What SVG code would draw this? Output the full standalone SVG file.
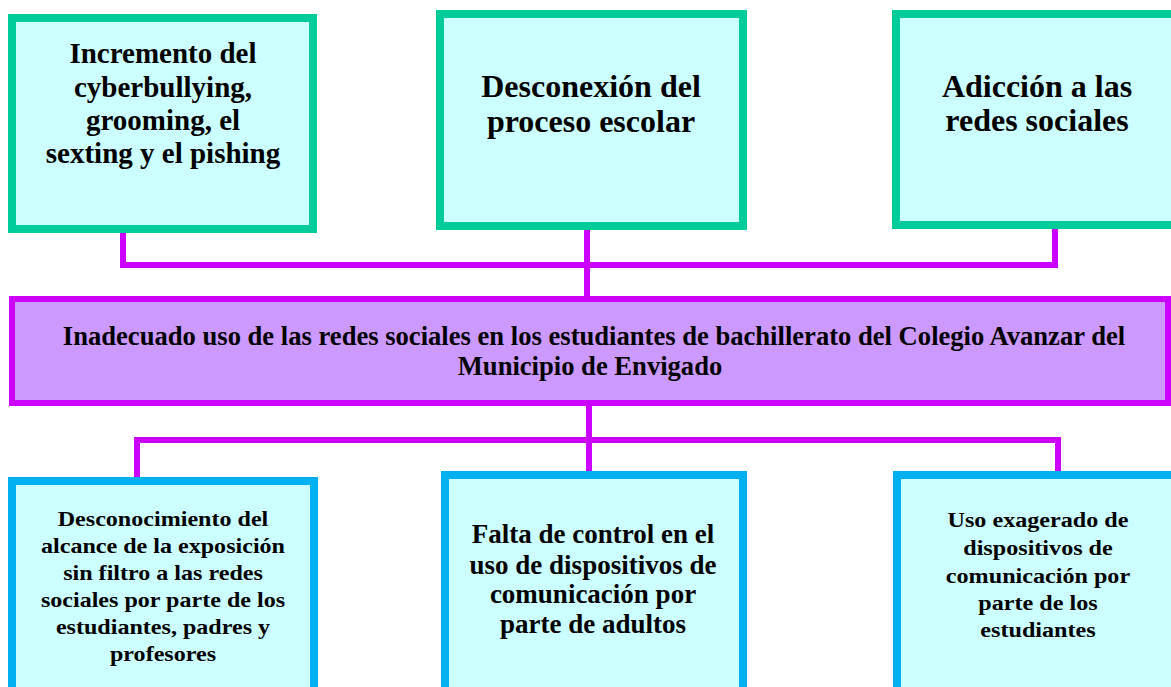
<svg xmlns="http://www.w3.org/2000/svg" width="1171" height="687" viewBox="0 0 1171 687">
<style>
.top{fill:#CCFFFF;stroke:#00CC99;stroke-width:8}
.bot{fill:#CCFFFF;stroke:#00B0F0;stroke-width:8}
.mid{fill:#CC99FF;stroke:#CC00FF;stroke-width:6}
.con{fill:none;stroke:#CC00FF;stroke-width:6}
text{font-family:"Liberation Serif","Times New Roman",serif;font-weight:bold;fill:#000;text-anchor:middle}
.t1{font-size:29px}
.t1b{font-size:32px}
.t2{font-size:26.6px}
.t5{font-size:22px}
.t6{font-size:27px}
.t7{font-size:21px}
</style>
<rect width="1171" height="687" fill="#fff"/>
<g id="connectors">
<polyline class="con" points="123,229 123,265 1055,265 1055,229"/>
<line class="con" x1="587" y1="229" x2="587" y2="296"/>
<line class="con" x1="589" y1="406" x2="589" y2="474"/>
<polyline class="con" points="137,477 137,440 1058,440 1058,474"/>
</g>
<g id="n1">
<rect class="top" x="12" y="18" width="301" height="211"/>
<text class="t1" x="163" y="63">Incremento del</text>
<text class="t1" x="163" y="97">cyberbullying,</text>
<text class="t1" x="163" y="130">grooming,  el</text>
<text class="t1" x="163" y="163">sexting y el pishing</text>
</g>
<g id="n2">
<rect class="top" x="440" y="14" width="303" height="212"/>
<text class="t1b" x="591" y="97">Desconexión del</text>
<text class="t1b" x="591" y="132">proceso escolar</text>
</g>
<g id="n3">
<rect class="top" x="896" y="14" width="285" height="211"/>
<text class="t1b" x="1037" y="97">Adicción a las</text>
<text class="t1b" x="1037" y="131">redes sociales</text>
</g>
<g id="n4">
<rect class="mid" x="12" y="299" width="1156" height="104"/>
<text class="t2" x="594" y="345">Inadecuado uso de las redes sociales en los estudiantes de bachillerato del Colegio Avanzar del</text>
<text class="t2" x="590" y="375">Municipio de Envigado</text>
</g>
<g id="n5">
<rect class="bot" x="12" y="481" width="302" height="215"/>
<g transform="translate(163,0) scale(1.095,1)">
<text class="t5" x="0" y="526">Desconocimiento del</text>
<text class="t5" x="0" y="553">alcance de la exposición</text>
<text class="t5" x="0" y="580">sin filtro a las redes</text>
<text class="t5" x="0" y="607">sociales por parte de los</text>
<text class="t5" x="0" y="634">estudiantes, padres y</text>
<text class="t5" x="0" y="661">profesores</text>
</g>
</g>
<g id="n6">
<rect class="bot" x="445" y="475" width="298" height="221"/>
<text class="t6" x="593" y="543">Falta de control en el</text>
<text class="t6" x="593" y="574">uso de dispositivos de</text>
<text class="t6" x="593" y="603">comunicación por</text>
<text class="t6" x="593" y="633">parte de adultos</text>
</g>
<g id="n7">
<rect class="bot" x="897" y="475" width="285" height="221"/>
<g transform="translate(1038,0) scale(1.15,1)">
<text class="t7" x="0" y="527">Uso exagerado de</text>
<text class="t7" x="0" y="555">dispositivos de</text>
<text class="t7" x="0" y="583">comunicación por</text>
<text class="t7" x="0" y="610">parte de los</text>
<text class="t7" x="0" y="637">estudiantes</text>
</g>
</g>
</svg>
